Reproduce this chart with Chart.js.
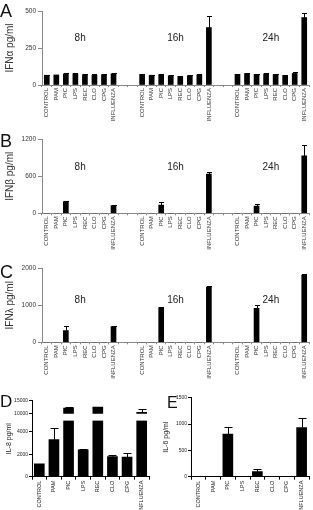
<!DOCTYPE html>
<html>
<head>
<meta charset="utf-8">
<script src="https://cdn.jsdelivr.net/npm/chart.js@4.4.1/dist/chart.umd.min.js"></script>
<style>
  html, body { margin: 0; padding: 0; background: #fff; }
  #wrap { position: relative; width: 313px; height: 510px; overflow: hidden; font-family: Arial, "Liberation Sans", sans-serif; }
  canvas { position: absolute; }
  .letter { position: absolute; line-height: 1; color: #111; }
</style>
</head>
<body>
<div id="wrap">
  <canvas id="chA" width="313" height="122" style="left:0;top:0"></canvas>
  <canvas id="chB" width="313" height="137" style="left:0;top:124px"></canvas>
  <canvas id="chC" width="313" height="130" style="left:0;top:262px"></canvas>
  <canvas id="chD" width="152" height="118" style="left:0;top:392px"></canvas>
  <canvas id="chE" width="161" height="118" style="left:152px;top:392px"></canvas>
  <div class="letter" style="left:0;top:2px;font-size:18px">A</div>
  <div class="letter" style="left:0;top:132px;font-size:18px">B</div>
  <div class="letter" style="left:0;top:263px;font-size:18px">C</div>
  <div class="letter" style="left:0;top:393px;font-size:17px">D</div>
  <div class="letter" style="left:167px;top:395px;font-size:16px">E</div>
</div>
<script>
// categories / time points
const categories = ['CONTROL', 'PAM', 'PIC', 'LPS', 'REC', 'CLO', 'CPG', 'INFLUENZA'];
const timePoints = ['8h', '16h', '24h'];

// A - IFN alpha (pg/ml), mean + error
const ifnA8 = [66, 68, 75, 76, 70, 66, 70, 76];
const ifnA8Err = [2, 2, 6, 2, 3, 6, 3, 2];
const ifnA16 = [72, 66, 70, 63, 58, 63, 68, 388];
const ifnA16Err = [4, 2, 7, 4, 2, 2, 5, 78];
const ifnA24 = [72, 78, 72, 75, 72, 65, 78, 456];
const ifnA24Err = [2, 5, 3, 5, 2, 4, 10, 28];

// B - IFN beta
const ifnB8 = [0, 0, 190, 0, 0, 0, 0, 124];
const ifnB8Err = [0, 0, 10, 0, 0, 0, 0, 12];
const ifnB16 = [0, 0, 135, 0, 0, 0, 0, 635];
const ifnB16Err = [0, 0, 45, 0, 0, 0, 0, 30];
const ifnB24 = [0, 0, 118, 0, 0, 0, 0, 930];
const ifnB24Err = [0, 0, 30, 0, 0, 0, 0, 175];

// C - IFN lambda
const ifnL8 = [0, 0, 314, 0, 0, 0, 0, 425];
const ifnL8Err = [0, 0, 116, 0, 0, 0, 0, 15];
const ifnL16 = [0, 0, 940, 0, 0, 0, 0, 1490];
const ifnL16Err = [0, 0, 15, 0, 0, 0, 0, 45];
const ifnL24 = [0, 0, 915, 0, 0, 0, 0, 1820];
const ifnL24Err = [0, 0, 85, 0, 0, 0, 0, 15];

// D - IL-8, E - IL-6
const il8 = [1150, 3300, 12250, 2400, 12600, 1800, 1750, 10600];
const il8Err = [0, 1000, 350, 80, 0, 120, 350, 1400];
const il6 = [0, 0, 810, 0, 95, 0, 0, 935];
const il6Err = [0, 0, 130, 0, 60, 0, 0, 175];

// three groups with two empty slots between them
function joinGroups(a, b, c, fill) {
  return [...a, fill, fill, ...b, fill, fill, ...c];
}
const xLabels = joinGroups(categories, categories, categories, '');
const plain = v => String(v);

Chart.defaults.font.family = 'Arial';
Chart.defaults.color = '#333';

// error bar on top of each bar
const errorBars = {
  id: 'errorBars',
  afterDatasetsDraw(chart, args, opts) {
    const ctx = chart.ctx;
    const cap = (opts.cap || 6) / 2;
    ctx.save();
    ctx.strokeStyle = '#000';
    ctx.lineWidth = 1;
    chart.data.datasets.forEach((ds, i) => {
      if (!ds.errors) return;
      const meta = chart.getDatasetMeta(i);
      const yScale = chart.scales[meta.yAxisID];
      meta.data.forEach((bar, j) => {
        const v = ds.data[j], e = ds.errors[j];
        if (v == null || !e) return;
        const x = Math.round(bar.x) + 0.5;
        const yTop = Math.round(yScale.getPixelForValue(v + e)) + 0.5;
        ctx.beginPath();
        ctx.moveTo(x, bar.y);
        ctx.lineTo(x, yTop);
        ctx.moveTo(x - cap, yTop);
        ctx.lineTo(x + cap, yTop);
        ctx.stroke();
      });
    });
    ctx.restore();
  }
};

// 8h / 16h / 24h labels inside plot
const groupLabels = {
  id: 'groupLabels',
  afterDraw(chart, args, opts) {
    if (!opts.labels) return;
    const {ctx, chartArea, scales} = chart;
    ctx.save();
    ctx.font = '10px Arial';
    ctx.fillStyle = '#222';
    ctx.textAlign = 'center';
    ctx.textBaseline = 'middle';
    const y = chartArea.top + opts.frac * (chartArea.bottom - chartArea.top);
    opts.labels.forEach((t, k) => {
      ctx.fillText(t, scales.x.getPixelForValue(opts.at[k]), y);
    });
    ctx.restore();
  }
};

// vertical title for the broken axis chart
const sideTitle = {
  id: 'sideTitle',
  afterDraw(chart, args, opts) {
    if (!opts.text) return;
    const {ctx, chartArea} = chart;
    ctx.save();
    ctx.font = opts.font;
    ctx.fillStyle = '#222';
    ctx.textAlign = 'center';
    ctx.textBaseline = 'middle';
    ctx.translate(opts.x, (chartArea.top + chartArea.bottom) / 2);
    ctx.rotate(-Math.PI / 2);
    ctx.fillText(opts.text, 0, 0);
    ctx.restore();
  }
};

Chart.register(errorBars, groupLabels, sideTitle);

function timeChart(id, padTop, xHeight, s8, s16, s24, e8, e16, e24, max, step, title, frac) {
  return new Chart(document.getElementById(id), {
    type: 'bar',
    data: {
      labels: xLabels,
      datasets: [{
        data: joinGroups(s8, s16, s24, null),
        errors: joinGroups(e8, e16, e24, 0),
        backgroundColor: '#000',
        barThickness: 5
      }]
    },
    options: {
      responsive: false,
      animation: false,
      layout: { padding: { top: padTop, right: 4, left: 0, bottom: 0 } },
      plugins: {
        legend: { display: false },
        tooltip: { enabled: false },
        errorBars: { cap: 5 },
        groupLabels: { labels: timePoints, at: [3.5, 13.5, 23.5], frac: frac }
      },
      scales: {
        x: {
          ticks: { autoSkip: false, maxRotation: 90, minRotation: 90, padding: 1, font: { size: 6 }, color: '#333' },
          grid: { drawOnChartArea: false, tickLength: 2, color: '#888' },
          border: { color: '#888' },
          afterFit: s => { s.height = xHeight; }
        },
        y: {
          min: 0,
          max: max,
          ticks: { stepSize: step, font: { size: 6.5 }, color: '#333', padding: 2, callback: plain },
          grid: { drawOnChartArea: false, tickLength: 4, color: '#888' },
          border: { color: '#888' },
          title: { display: true, text: title, font: { size: 10 }, color: '#333', padding: { top: 4, bottom: 0 } },
          afterFit: s => { s.width = 42; }
        }
      }
    }
  });
}

timeChart('chA', 11, 37, ifnA8, ifnA16, ifnA24, ifnA8Err, ifnA16Err, ifnA24Err, 500, 250, 'IFNα pg/ml', 0.365);
timeChart('chB', 15.3, 47.7, ifnB8, ifnB16, ifnB24, ifnB8Err, ifnB16Err, ifnB24Err, 1200, 600, 'IFNβ pg/ml', 0.375);
timeChart('chC', 6.3, 49.7, ifnL8, ifnL16, ifnL24, ifnL8Err, ifnL16Err, ifnL24Err, 2000, 1000, 'IFNλ pg/ml', 0.43);

const smallX = {
  ticks: { autoSkip: false, maxRotation: 90, minRotation: 90, padding: 1, font: { size: 5.5 }, color: '#222' },
  grid: { drawOnChartArea: false, tickLength: 3, color: '#000' },
  border: { color: '#000' },
  afterFit: s => { s.height = 33.3; }
};

// D - IL-8 with a broken axis: lower 0-5000, upper 10000-15000
new Chart(document.getElementById('chD'), {
  type: 'bar',
  data: {
    labels: categories,
    datasets: [{
      data: il8.map(v => Math.min(v, 5000)),
      errors: il8.map((v, i) => v < 5000 ? il8Err[i] : 0),
      yAxisID: 'y',
      grouped: false,
      backgroundColor: '#000',
      barThickness: 10
    }, {
      data: il8.map(v => v >= 10000 ? v : null),
      errors: il8.map((v, i) => v >= 10000 ? il8Err[i] : 0),
      yAxisID: 'yTop',
      base: 10000,
      grouped: false,
      backgroundColor: '#000',
      barThickness: 10
    }]
  },
  options: {
    responsive: false,
    animation: false,
    layout: { padding: { top: 8.7, right: 3, left: 0, bottom: 0 } },
    plugins: {
      legend: { display: false },
      tooltip: { enabled: false },
      errorBars: { cap: 8 },
      sideTitle: { text: 'IL-8 pg/ml', x: 9, font: '7px Arial' }
    },
    scales: {
      x: smallX,
      y: {
        stack: 'il8',
        stackWeight: 2.84,
        min: 0,
        max: 5000,
        ticks: { stepSize: 1000, font: { size: 5 }, color: '#222', padding: 1, callback: plain },
        grid: { drawOnChartArea: false, tickLength: 3, color: '#000' },
        border: { color: '#000' },
        afterFit: s => { s.width = 32; }
      },
      yTop: {
        stack: 'il8',
        stackWeight: 1,
        min: 7500,
        max: 15000,
        afterBuildTicks: s => { s.ticks = [{ value: 10000 }, { value: 15000 }]; },
        ticks: { font: { size: 5 }, color: '#222', padding: 1, callback: plain },
        grid: { drawOnChartArea: false, tickLength: 3, color: '#000' },
        border: { color: '#000' },
        afterFit: s => { s.width = 32; }
      }
    }
  }
});

// E - IL-6
new Chart(document.getElementById('chE'), {
  type: 'bar',
  data: {
    labels: categories,
    datasets: [{
      data: il6,
      errors: il6Err,
      backgroundColor: '#000',
      barThickness: 10
    }]
  },
  options: {
    responsive: false,
    animation: false,
    layout: { padding: { top: 5.7, right: 4, left: 0, bottom: 0 } },
    plugins: {
      legend: { display: false },
      tooltip: { enabled: false },
      errorBars: { cap: 8 }
    },
    scales: {
      x: smallX,
      y: {
        min: 0,
        max: 1500,
        ticks: { stepSize: 500, font: { size: 5 }, color: '#222', padding: 1, callback: plain },
        grid: { drawOnChartArea: false, tickLength: 3, color: '#000' },
        border: { color: '#000' },
        title: { display: true, text: 'IL-6 pg/ml', font: { size: 7 }, color: '#222', padding: { top: 10, bottom: 0 } },
        afterFit: s => { s.width = 39; }
      }
    }
  }
});
</script>
</body>
</html>
